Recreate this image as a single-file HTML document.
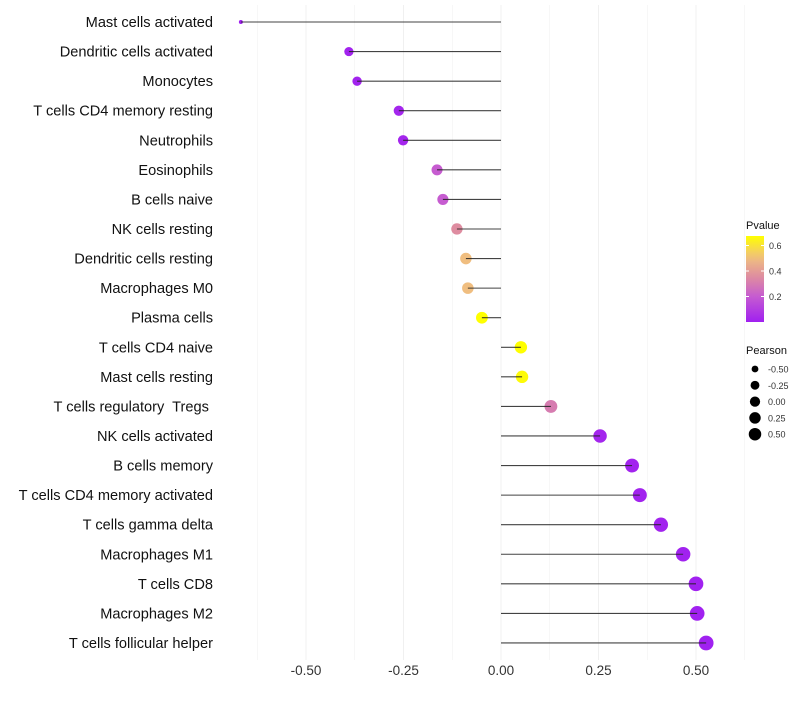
<!DOCTYPE html>
<html><head><meta charset="utf-8"><style>
body{margin:0;background:#fff;font-family:"Liberation Sans",sans-serif}
text{white-space:pre}
</style></head><body>
<svg id="c" width="800" height="700" xmlns="http://www.w3.org/2000/svg"></svg>
<script>
const categories=["Mast cells activated","Dendritic cells activated","Monocytes","T cells CD4 memory resting","Neutrophils","Eosinophils","B cells naive","NK cells resting","Dendritic cells resting","Macrophages M0","Plasma cells","T cells CD4 naive","Mast cells resting","T cells regulatory  Tregs ","NK cells activated","B cells memory","T cells CD4 memory activated","T cells gamma delta","Macrophages M1","T cells CD8","Macrophages M2","T cells follicular helper"];
const pearson=[-0.667,-0.390,-0.369,-0.262,-0.251,-0.164,-0.149,-0.113,-0.090,-0.085,-0.049,0.051,0.054,0.128,0.254,0.336,0.356,0.410,0.467,0.500,0.503,0.526];
const pvalues=[0.001,0.01,0.01,0.02,0.02,0.2,0.2,0.35,0.5,0.5,0.67,0.67,0.66,0.3,0.02,0.01,0.01,0.01,0.005,0.003,0.003,0.002];
const xTicks=[-0.5,-0.25,0,0.25,0.5];
const xTickLabels=["-0.50","-0.25","0.00","0.25","0.50"];
const pTicks=[0.2,0.4,0.6];
const sizeTicks=[-0.5,-0.25,0,0.25,0.5];
const sizeTickLabels=["-0.50","-0.25","0.00","0.25","0.50"];

const svg=document.getElementById('c');const NS="http://www.w3.org/2000/svg";
function mk(t,a,p){const e=document.createElementNS(NS,t);for(const k in a)e.setAttribute(k,a[k]);(p||svg).appendChild(e);return e;}
const x=v=>501+v*390;
const y=i=>22+i*29.57;
const rad=v=>2+5.4*Math.sqrt(Math.max(0,(v+0.667)/1.193));
const stops=[[0,[160,32,240]],[0.2,[198,92,208]],[0.35,[222,140,160]],[0.5,[240,190,128]],[0.67,[255,255,0]]];
function col(p){p=Math.min(0.67,Math.max(0,p));for(let i=1;i<stops.length;i++){if(p<=stops[i][0]){const t=(p-stops[i-1][0])/(stops[i][0]-stops[i-1][0]);const a=stops[i-1][1],b=stops[i][1];return `rgb(${a.map((c,j)=>Math.round(c+(b[j]-c)*t)).join(',')})`;}}return 'rgb(255,255,0)';}

for(let v=-0.625;v<=0.63;v+=0.125){
  const g=mk('line',{x1:x(v),x2:x(v),y1:5,y2:660,stroke:'#efefef','stroke-width':(Math.abs((v*4)%1)<1e-6)?0.9:0.5});
  
  
}
xTicks.forEach((v,i)=>{
  const t=mk('text',{x:x(v),y:675,'text-anchor':'middle','font-size':13.5,fill:'#333'});
  t.textContent=xTickLabels[i];
  
  
});
categories.forEach((c,i)=>{
  const t=mk('text',{x:213,y:y(i)+5,'text-anchor':'end','font-size':14.6,fill:'#111','xml:space':'preserve'});
  t.textContent=c;
  
  
  const d=mk('circle',{cx:x(pearson[i]),cy:y(i),r:rad(pearson[i]),fill:col(pvalues[i])});
  
  
  const l=mk('line',{x1:x(pearson[i]),x2:x(0),y1:y(i),y2:y(i),stroke:'#222','stroke-width':1.1,'stroke-opacity':0.85});
  
  
});
const lg=mk('g',{});


const tt=mk('text',{x:746,y:229,'font-size':11,fill:'#111'},lg);tt.textContent='Pvalue';
const defs=mk('defs',{});const gr=mk('linearGradient',{id:'pg',x1:0,y1:1,x2:0,y2:0},defs);
for(let k=0;k<=10;k++){const p=0.67*k/10;mk('stop',{offset:k/10,'stop-color':col(p)},gr);}
mk('rect',{x:746,y:236,width:18,height:86,fill:'url(#pg)'},lg);
const py=p=>322-p*127.5;
pTicks.forEach(p=>{
  mk('line',{x1:746,x2:749,y1:py(p),y2:py(p),stroke:'#fff'},lg);mk('line',{x1:761,x2:764,y1:py(p),y2:py(p),stroke:'#fff'},lg);
  const t=mk('text',{x:769,y:py(p)+3.5,'font-size':9,fill:'#333'},lg);t.textContent=p.toFixed(1);
});
const sg=mk('g',{});


const st=mk('text',{x:746,y:354,'font-size':11,fill:'#111'},sg);st.textContent='Pearson';
sizeTicks.forEach((v,i)=>{
  const cy=369+i*16.3;
  mk('circle',{cx:755,cy:cy,r:rad(v)*0.85,fill:'#000'},sg);
  const t=mk('text',{x:768,y:cy+3.5,'font-size':9,fill:'#333'},sg);t.textContent=sizeTickLabels[i];
});
</script>
</body></html>
